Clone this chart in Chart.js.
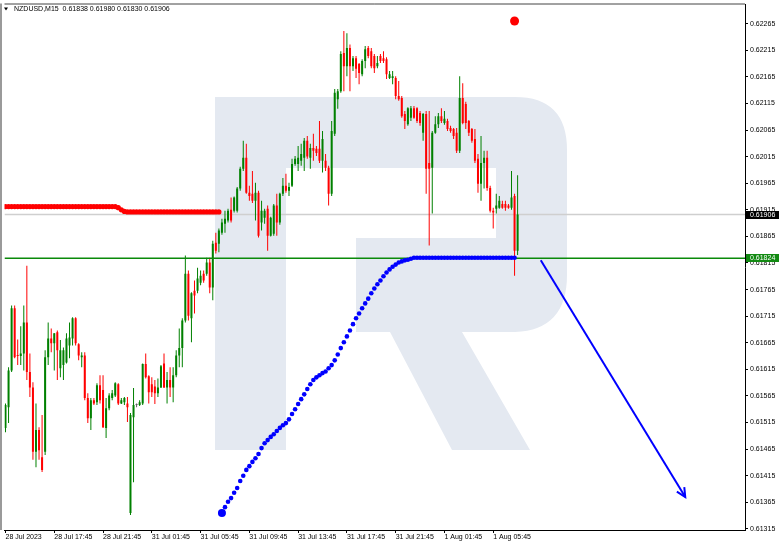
<!DOCTYPE html>
<html><head><meta charset="utf-8">
<script src="https://cdn.jsdelivr.net/npm/chart.js@4/dist/chart.umd.min.js"></script>
<style>html,body{margin:0;padding:0;background:#fff;overflow:hidden}canvas{display:block}</style>
</head><body><canvas id="c" width="782" height="547"></canvas>
<script>
const symbol = "NZDUSD,M15";
const timeLabels = ["28 Jul 2023","28 Jul 17:45","28 Jul 21:45","31 Jul 01:45","31 Jul 05:45","31 Jul 09:45","31 Jul 13:45","31 Jul 17:45","31 Jul 21:45","1 Aug 01:45","1 Aug 05:45"];
const timeLabelBars = [0,16,32,48,64,80,96,112,128,144,160];
const priceTicks = [0.61315,0.61365,0.61415,0.61465,0.61515,0.61565,0.61615,0.61665,0.61715,0.61765,0.61815,0.61865,0.61915,0.61965,0.62015,0.62065,0.62115,0.62165,0.62215,0.62265];

const openP = [0.61505,0.61544,0.61613,0.61730,0.61641,0.61640,0.61645,0.61703,0.61610,0.61581,
0.61460,0.61501,0.61450,0.61460,0.61638,0.61673,0.61664,0.61685,0.61617,0.61623,
0.61628,0.61660,0.61673,0.61711,0.61662,0.61638,0.61641,0.61561,0.61523,0.61557,
0.61553,0.61585,0.61576,0.61505,0.61542,0.61561,0.61566,0.61587,0.61551,0.61553,
0.61551,0.61345,0.61525,0.61548,0.61548,0.61551,0.61625,0.61602,0.61587,0.61583,
0.61570,0.61581,0.61626,0.61581,0.61595,0.61581,0.61604,0.61641,0.61655,0.61707,
0.61795,0.61711,0.61763,0.61763,0.61778,0.61795,0.61795,0.61816,0.61769,0.61853,
0.61851,0.61872,0.61889,0.61895,0.61915,0.61913,0.61913,0.61955,0.61992,0.62013,
0.61947,0.61945,0.61932,0.61947,0.61891,0.61900,0.61917,0.61866,0.61870,0.61923,
0.61891,0.61945,0.61960,0.61951,0.61960,0.62001,0.62001,0.62007,0.62013,0.62045,
0.62013,0.62031,0.62030,0.62030,0.62007,0.62007,0.61994,0.61945,0.62058,0.62123,
0.62138,0.62210,0.62185,0.62219,0.62185,0.62200,0.62189,0.62170,0.62195,0.62219,
0.62213,0.62204,0.62185,0.62204,0.62200,0.62198,0.62163,0.62163,0.62163,0.62129,
0.62125,0.62095,0.62076,0.62088,0.62106,0.62106,0.62097,0.62060,0.62095,0.62003,
0.61994,0.62060,0.62076,0.62091,0.62078,0.62082,0.62069,0.62067,0.62060,0.62026,
0.62125,0.62114,0.62082,0.62067,0.62048,0.62011,0.61964,0.62003,0.62013,0.61956,
0.61913,0.61917,0.61919,0.61926,0.61926,0.61923,0.61919,0.61941,0.61838];
const highP = [0.61551,0.61619,0.61735,0.61735,0.61671,0.61696,0.61735,0.61810,0.61645,0.61591,
0.61551,0.61506,0.61529,0.61651,0.61703,0.61692,0.61683,0.61688,0.61670,0.61656,
0.61683,0.61703,0.61713,0.61713,0.61664,0.61647,0.61647,0.61570,0.61561,0.61561,
0.61589,0.61604,0.61604,0.61561,0.61570,0.61576,0.61591,0.61589,0.61561,0.61563,
0.61563,0.61533,0.61580,0.61551,0.61557,0.61626,0.61645,0.61604,0.61600,0.61595,
0.61598,0.61623,0.61645,0.61610,0.61619,0.61619,0.61651,0.61692,0.61711,0.61829,
0.61801,0.61760,0.61782,0.61806,0.61801,0.61801,0.61825,0.61825,0.61857,0.61872,
0.61880,0.61898,0.61913,0.61917,0.61938,0.61940,0.61958,0.61996,0.62045,0.62039,
0.61960,0.61988,0.61966,0.61951,0.61932,0.61917,0.61923,0.61902,0.61926,0.61945,
0.61947,0.61975,0.61983,0.61966,0.62011,0.62016,0.62035,0.62039,0.62050,0.62054,
0.62039,0.62058,0.62035,0.62082,0.62063,0.62020,0.61998,0.62082,0.62142,0.62142,
0.62213,0.62251,0.62247,0.62226,0.62204,0.62204,0.62191,0.62198,0.62223,0.62223,
0.62219,0.62208,0.62204,0.62208,0.62213,0.62202,0.62176,0.62176,0.62166,0.62157,
0.62129,0.62101,0.62108,0.62110,0.62110,0.62108,0.62101,0.62097,0.62101,0.62101,
0.62063,0.62091,0.62097,0.62106,0.62101,0.62086,0.62073,0.62069,0.62069,0.62166,
0.62153,0.62118,0.62084,0.62069,0.62067,0.62020,0.62054,0.62026,0.62026,0.61960,
0.61919,0.61945,0.61941,0.61932,0.61932,0.61926,0.61988,0.61945,0.61980];
const lowP = [0.61497,0.61514,0.61610,0.61636,0.61623,0.61623,0.61613,0.61595,0.61563,0.61445,
0.61431,0.61445,0.61422,0.61454,0.61623,0.61647,0.61613,0.61595,0.61600,0.61595,
0.61626,0.61636,0.61660,0.61660,0.61632,0.61619,0.61557,0.61514,0.61501,0.61548,
0.61548,0.61551,0.61505,0.61486,0.61538,0.61557,0.61563,0.61548,0.61550,0.61548,
0.61516,0.61341,0.61403,0.61544,0.61546,0.61548,0.61598,0.61551,0.61563,0.61550,
0.61563,0.61580,0.61580,0.61551,0.61563,0.61553,0.61600,0.61619,0.61619,0.61703,
0.61707,0.61666,0.61720,0.61758,0.61773,0.61778,0.61791,0.61758,0.61745,0.61833,
0.61835,0.61868,0.61872,0.61891,0.61891,0.61910,0.61910,0.61951,0.61988,0.61945,
0.61932,0.61928,0.61895,0.61863,0.61876,0.61889,0.61838,0.61865,0.61866,0.61866,
0.61887,0.61941,0.61947,0.61941,0.61958,0.61998,0.61988,0.61998,0.61988,0.62011,
0.61992,0.62007,0.62016,0.62003,0.61985,0.61988,0.61923,0.61941,0.62054,0.62105,
0.62135,0.62138,0.62166,0.62138,0.62176,0.62163,0.62151,0.62166,0.62181,0.62200,
0.62181,0.62172,0.62181,0.62191,0.62191,0.62161,0.62161,0.62151,0.62123,0.62120,
0.62088,0.62067,0.62073,0.62082,0.62086,0.62078,0.62073,0.62045,0.61945,0.61848,
0.61908,0.62058,0.62069,0.62078,0.62075,0.62063,0.62060,0.62048,0.62022,0.62022,
0.62076,0.62067,0.62054,0.62041,0.62003,0.61947,0.61932,0.61955,0.61951,0.61910,
0.61880,0.61908,0.61917,0.61917,0.61913,0.61917,0.61915,0.61791,0.61830];
const closeP = [0.61548,0.61613,0.61730,0.61638,0.61640,0.61645,0.61703,0.61610,0.61581,0.61460,
0.61501,0.61463,0.61426,0.61638,0.61673,0.61664,0.61683,0.61651,0.61651,0.61651,
0.61673,0.61675,0.61711,0.61664,0.61641,0.61641,0.61561,0.61523,0.61557,0.61551,
0.61585,0.61557,0.61506,0.61542,0.61566,0.61570,0.61589,0.61551,0.61557,0.61561,
0.61544,0.61529,0.61548,0.61548,0.61553,0.61625,0.61600,0.61572,0.61572,0.61570,
0.61581,0.61621,0.61581,0.61595,0.61581,0.61604,0.61641,0.61655,0.61707,0.61795,
0.61716,0.61758,0.61754,0.61786,0.61791,0.61782,0.61816,0.61769,0.61851,0.61838,
0.61876,0.61891,0.61898,0.61913,0.61895,0.61938,0.61955,0.61992,0.62013,0.61947,
0.61941,0.61932,0.61947,0.61866,0.61913,0.61913,0.61866,0.61900,0.61923,0.61891,
0.61945,0.61960,0.61951,0.61958,0.62001,0.62011,0.62013,0.62020,0.62045,0.62015,
0.62031,0.62026,0.62022,0.62007,0.62048,0.61994,0.61945,0.62063,0.62135,0.62138,
0.62208,0.62185,0.62219,0.62185,0.62200,0.62180,0.62172,0.62195,0.62217,0.62204,
0.62185,0.62181,0.62191,0.62195,0.62195,0.62170,0.62170,0.62166,0.62129,0.62123,
0.62091,0.62082,0.62106,0.62106,0.62088,0.62082,0.62078,0.62095,0.61992,0.61992,
0.62060,0.62076,0.62091,0.62082,0.62086,0.62067,0.62063,0.62054,0.62026,0.62125,
0.62078,0.62078,0.62060,0.62045,0.62007,0.61964,0.62003,0.62013,0.61956,0.61913,
0.61910,0.61923,0.61932,0.61919,0.61919,0.61919,0.61938,0.61838,0.61906];

const redTrendStart = 0;
const redTrend = [0.61921,0.61921,0.61921,0.61921,0.61921,0.61921,0.61921,0.61921,0.61921,0.61921,
0.61921,0.61921,0.61921,0.61921,0.61921,0.61921,0.61921,0.61921,0.61921,0.61921,
0.61921,0.61921,0.61921,0.61921,0.61921,0.61921,0.61921,0.61921,0.61921,0.61921,
0.61921,0.61921,0.61921,0.61921,0.61921,0.61921,0.61921,0.61919,0.61915,0.61912,
0.61911,0.61911,0.61911,0.61911,0.61911,0.61911,0.61911,0.61911,0.61911,0.61911,
0.61911,0.61911,0.61911,0.61911,0.61911,0.61911,0.61911,0.61911,0.61911,0.61911,
0.61911,0.61911,0.61911,0.61911,0.61911,0.61911,0.61911,0.61911,0.61911,0.61911,0.61911];
const blueTrendStart = 71;
const blueTrend = [0.61345,0.61356,0.61366,0.61373,0.61383,0.61392,0.61405,0.61415,0.61426,0.61433,
0.61441,0.61448,0.61456,0.61467,0.61476,0.61482,0.61488,0.61493,0.61499,0.61505,
0.61510,0.61514,0.61521,0.61531,0.61540,0.61550,0.61559,0.61568,0.61578,0.61587,
0.61595,0.61600,0.61604,0.61608,0.61611,0.61617,0.61623,0.61632,0.61643,0.61655,
0.61666,0.61677,0.61688,0.61700,0.61711,0.61720,0.61730,0.61739,0.61748,0.61758,
0.61767,0.61775,0.61782,0.61790,0.61797,0.61803,0.61808,0.61812,0.61816,0.61818,
0.61820,0.61821,0.61823,0.61825,0.61825,0.61825,0.61825,0.61825,0.61825,0.61825,
0.61825,0.61825,0.61825,0.61825,0.61825,0.61825,0.61825,0.61825,0.61825,0.61825,
0.61825,0.61825,0.61825,0.61825,0.61825,0.61825,0.61825,0.61825,0.61825,0.61825,
0.61825,0.61825,0.61825,0.61825,0.61825,0.61825,0.61825];
const signalBar = [167];
const signalPrice = [0.62270];
const arrowBars = [175.6, 223.0];
const arrowPrices = [0.61820, 0.61375];
const levelPrice = 0.61824;
const currentPrice = closeP[closeP.length - 1];

const xMin = -0.33, xMax = 242.6, yMin = 0.61313, yMax = 0.62301;
const GREEN = '#008000', RED = '#ff0000', DOJI = '#606060';
const candleColor = openP.map((o, i) => closeP[i] > o ? GREEN : (closeP[i] < o ? RED : DOJI));
const FONT = {family: 'Liberation Sans, Arial, sans-serif', size: 7};

const decor = {
  id: 'decor',
  beforeDatasetsDraw(chart) {
    const ctx = chart.ctx, a = chart.chartArea;
    ctx.save();
    ctx.beginPath();
    ctx.rect(a.left, a.top, a.right - a.left, a.bottom - a.top);
    ctx.clip();
    ctx.beginPath();
    ctx.moveTo(215, 97); ctx.lineTo(515, 97); ctx.quadraticCurveTo(567, 97, 567, 150);
    ctx.lineTo(567, 275); ctx.quadraticCurveTo(567, 330, 515, 332);
    ctx.lineTo(462, 332); ctx.lineTo(530, 450); ctx.lineTo(452, 450); ctx.lineTo(390, 332);
    ctx.lineTo(356, 332); ctx.lineTo(356, 238); ctx.lineTo(286, 238); ctx.lineTo(286, 450);
    ctx.lineTo(215, 450); ctx.closePath();
    ctx.moveTo(286, 168); ctx.lineTo(496, 168); ctx.lineTo(496, 238); ctx.lineTo(286, 238); ctx.closePath();
    ctx.fillStyle = '#e4e9f1';
    ctx.fill('evenodd');
    ctx.restore();
  },
  afterDatasetsDraw(chart) {
    const meta = chart.getDatasetMeta(0);
    const p0 = meta.data[0], p1 = meta.data[1];
    const ang = Math.atan2(p1.y - p0.y, p1.x - p0.x);
    const ctx = chart.ctx, L = 10, s = 0.45;
    ctx.save();
    ctx.strokeStyle = '#0000ff'; ctx.lineWidth = 2;
    ctx.beginPath();
    ctx.moveTo(p1.x - L * Math.cos(ang - s), p1.y - L * Math.sin(ang - s));
    ctx.lineTo(p1.x, p1.y);
    ctx.lineTo(p1.x - L * Math.cos(ang + s), p1.y - L * Math.sin(ang + s));
    ctx.stroke();
    ctx.restore();
  },
  afterDraw(chart) {
    const ctx = chart.ctx, a = chart.chartArea, y = chart.scales.y;
    ctx.save();
    ctx.strokeStyle = '#444'; ctx.lineWidth = 1;
    ctx.beginPath(); ctx.moveTo(a.left, a.top - 0.5); ctx.lineTo(a.right, a.top - 0.5); ctx.stroke();
    ctx.fillStyle = '#9a9a9a'; ctx.fillRect(0, a.top - 1, 2, a.bottom - a.top + 1);
    const box = (price, bg) => {
      const py = y.getPixelForValue(price);
      ctx.fillStyle = bg; ctx.fillRect(a.right + 1, Math.round(py) - 4, 33, 8);
      ctx.fillStyle = '#fff'; ctx.font = '7px Liberation Sans, Arial, sans-serif';
      ctx.textBaseline = 'middle'; ctx.textAlign = 'left';
      ctx.fillText(price.toFixed(5), a.right + 5, Math.round(py) + 0.5);
    };
    box(currentPrice, '#000000');
    box(levelPrice, '#128a12');
    const last = openP.length - 1;
    ctx.fillStyle = '#000';
    ctx.beginPath(); ctx.moveTo(4, 7.5); ctx.lineTo(8, 7.5); ctx.lineTo(6, 10.5); ctx.closePath(); ctx.fill();
    ctx.font = '7px Liberation Sans, Arial, sans-serif'; ctx.textBaseline = 'middle'; ctx.textAlign = 'left';
    ctx.fillText(symbol + '  ' + [openP[last], highP[last], lowP[last], closeP[last]].map(v => v.toFixed(5)).join(' '), 14, 9.5);
    ctx.restore();
  }
};

const lineAt = (price) => [{x: xMin, y: price}, {x: xMax, y: price}];

new Chart(document.getElementById('c'), {
  type: 'bar',
  data: {
    datasets: [
      {type: 'line', order: 0, data: arrowBars.map((b, i) => ({x: b, y: arrowPrices[i]})),
       borderColor: '#0000ff', borderWidth: 2, pointRadius: 0, fill: false},
      {type: 'line', order: 1, showLine: false, data: signalBar.map((b, i) => ({x: b, y: signalPrice[i]})),
       pointRadius: 4.5, pointBackgroundColor: '#ff0000', pointBorderWidth: 0},
      {type: 'line', order: 2, showLine: false, data: blueTrend.map((v, i) => ({x: blueTrendStart + i, y: v})),
       pointRadius: blueTrend.map((v, i) => i === 0 ? 4 : 2.3), pointBackgroundColor: '#0000ff', pointBorderWidth: 0},
      {type: 'line', order: 3, showLine: false, data: redTrend.map((v, i) => ({x: redTrendStart + i, y: v})),
       pointRadius: 2.6, pointBackgroundColor: '#ff0000', pointBorderWidth: 0},
      {type: 'line', order: 4, data: lineAt(levelPrice), borderColor: '#0a8a0a', borderWidth: 1.5, pointRadius: 0},
      {type: 'bar', order: 5, data: openP.map((o, i) => ({x: i, y: [o, closeP[i]]})),
       backgroundColor: candleColor, barThickness: 2, minBarLength: 1, grouped: false, inflateAmount: 0, borderWidth: 0},
      {type: 'bar', order: 6, data: openP.map((o, i) => ({x: i, y: [lowP[i], highP[i]]})),
       backgroundColor: candleColor, barThickness: 1, grouped: false, inflateAmount: 0, borderWidth: 0},
      {type: 'line', order: 7, data: lineAt(currentPrice), borderColor: '#cfcfcf', borderWidth: 1.5, pointRadius: 0}
    ]
  },
  options: {
    responsive: false, animation: false, devicePixelRatio: 1,
    layout: {padding: {left: 2, top: 3, right: 0, bottom: 0}},
    plugins: {legend: {display: false}, tooltip: {enabled: false}},
    scales: {
      x: {
        type: 'linear', min: xMin, max: xMax, offset: false,
        grid: {display: true, drawOnChartArea: false, drawTicks: true, tickLength: 3, color: '#000', offset: false},
        border: {display: true, color: '#000'},
        ticks: {autoSkip: false, maxRotation: 0, minRotation: 0, align: 'start', padding: 0, color: '#000', font: FONT,
                callback: (v, idx) => timeLabels[idx]},
        afterBuildTicks: s => { s.ticks = timeLabelBars.map(v => ({value: v})); },
        afterFit: s => { s.height = 17; s.paddingLeft = 0; s.paddingRight = 0; }
      },
      y: {
        type: 'linear', position: 'right', min: yMin, max: yMax, beginAtZero: false,
        grid: {display: true, drawOnChartArea: false, drawTicks: true, tickLength: 3, color: '#000'},
        border: {display: true, color: '#000'},
        ticks: {padding: 2, color: '#000', font: FONT, callback: v => v.toFixed(5)},
        afterBuildTicks: s => { s.ticks = priceTicks.map(v => ({value: v})); },
        afterFit: s => { s.width = 37; s.paddingTop = 0; s.paddingBottom = 0; }
      }
    }
  },
  plugins: [decor]
});
</script>
</body></html>
